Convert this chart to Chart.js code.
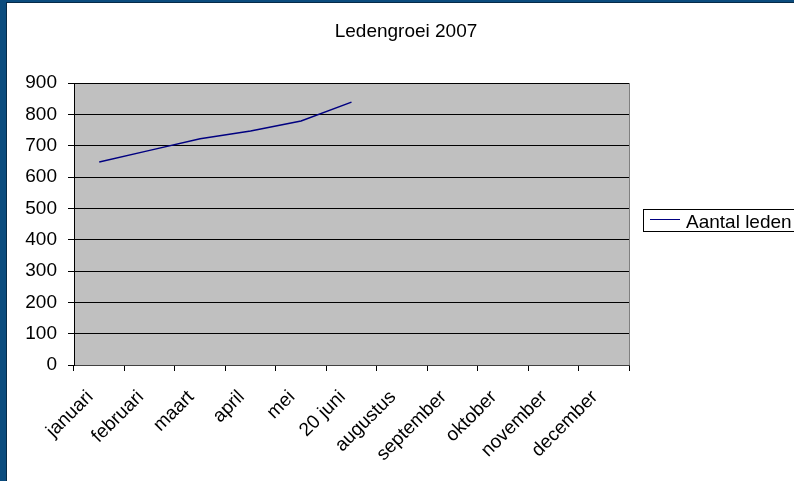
<!DOCTYPE html>
<html>
<head>
<meta charset="utf-8">
<script src="https://cdn.jsdelivr.net/npm/chart.js@4/dist/chart.umd.min.js"></script>
<style>
html,body{margin:0;padding:0;background:#fff;overflow:hidden;}
canvas{display:block;}
</style>
</head>
<body>
<canvas id="c" width="794" height="481"></canvas>
<script>
const categories = ['januari','februari','maart','april','mei','20 juni','augustus','september','oktober','november','december'];
const aantalLeden = [648, 685, 722, 747, 779, 839, null, null, null, null, null];
const seriesName = 'Aantal leden';
const chartTitle = 'Ledengroei 2007';
const yMin = 0, yMax = 900, yStep = 100;

const FONT = '"Liberation Sans", Arial, sans-serif';
Chart.defaults.font.family = FONT;
Chart.defaults.font.size = 19;
Chart.defaults.color = '#000';

const decor = {
  id: 'decor',
  beforeDraw(chart) {
    const {ctx, chartArea: a} = chart;
    ctx.save();
    ctx.fillStyle = '#c0c0c0';
    ctx.fillRect(a.left, a.top, a.right - a.left, a.bottom - a.top);
    ctx.restore();
  },
  afterDraw(chart) {
    const {ctx, chartArea: a} = chart;
    ctx.save();
    // right edge of plot
    ctx.strokeStyle = '#808080';
    ctx.lineWidth = 1;
    ctx.beginPath();
    ctx.moveTo(Math.round(a.right) + 0.5, a.top);
    ctx.lineTo(Math.round(a.right) + 0.5, a.bottom);
    ctx.stroke();
    // outer blue frame
    ctx.fillStyle = '#0b4c7e';
    ctx.fillRect(0, 0, 7, 481);
    ctx.fillRect(0, 0, 794, 3);
    ctx.fillStyle = '#062a48';
    ctx.fillRect(6, 3, 1, 478);
    ctx.fillRect(6, 2, 788, 1);
    // title
    ctx.fillStyle = '#000';
    ctx.font = '19px ' + FONT;
    ctx.textAlign = 'center';
    ctx.textBaseline = 'alphabetic';
    ctx.fillText(chartTitle, 406, 37);
    // legend
    ctx.fillStyle = '#fff';
    ctx.fillRect(643, 209, 160, 22);
    ctx.strokeStyle = '#000';
    ctx.strokeRect(643.5, 209.5, 160, 22);
    ctx.strokeStyle = '#000080';
    ctx.lineWidth = 1;
    ctx.beginPath();
    ctx.moveTo(650, 219.5);
    ctx.lineTo(680, 219.5);
    ctx.stroke();
    ctx.fillStyle = '#000';
    ctx.textAlign = 'left';
    ctx.fillText(seriesName, 686, 228);
    ctx.restore();
  }
};

new Chart(document.getElementById('c'), {
  type: 'line',
  data: {
    labels: categories,
    datasets: [{
      label: seriesName,
      data: aantalLeden,
      borderColor: '#000080',
      borderWidth: 1.5,
      pointRadius: 0,
      tension: 0,
      fill: false,
      spanGaps: false
    }]
  },
  options: {
    responsive: false,
    devicePixelRatio: 1,
    animation: false,
    layout: { padding: { left: 0, top: 83, right: 165, bottom: 0 } },
    plugins: { legend: { display: false }, title: { display: false }, tooltip: { enabled: false } },
    scales: {
      x: {
        type: 'category',
        offset: true,
        grid: { offset: true, drawOnChartArea: false, drawTicks: true, tickLength: 6, color: '#000', tickColor: '#000' },
        border: { color: '#404040', width: 1 },
        ticks: { maxRotation: 45, minRotation: 45, autoSkip: false, padding: 15, labelOffset: -9 },
        afterFit(s) { s.height = 116; }
      },
      y: {
        min: yMin, max: yMax,
        ticks: { stepSize: yStep, padding: 11 },
        grid: { color: '#000', tickColor: '#000', tickLength: 6, drawTicks: true },
        border: { color: '#000', width: 1 },
        afterFit(s) { s.width = 74; }
      }
    }
  },
  plugins: [decor]
});
</script>
</body>
</html>
